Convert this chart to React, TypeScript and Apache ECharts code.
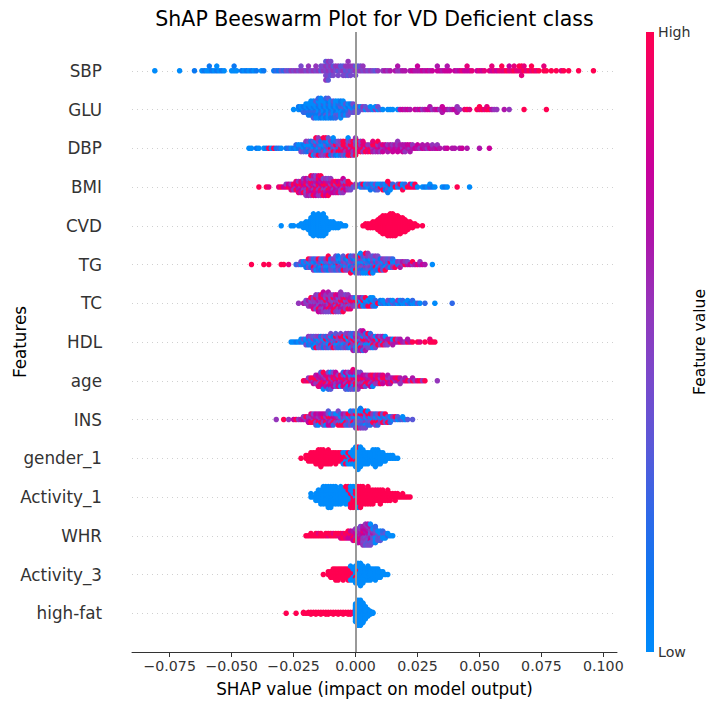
import React, { useEffect, useRef } from "react";
import * as echarts from "echarts";

// Feature names, top to bottom
const FEATURES = ["SBP", "GLU", "DBP", "BMI", "CVD", "TG", "TC", "HDL", "age", "INS", "gender_1", "Activity_1", "WHR", "Activity_3", "high-fat"];
const X_TICKS = [-0.075, -0.05, -0.025, 0, 0.025, 0.05, 0.075, 0.1];
// feature value colour scale (0 = low ... 9 = high)
const CMAP = ["#008bfb", "#0a78f2", "#2f68e8", "#5a58d8", "#7a48cb", "#9435bb", "#ae15aa", "#c8009b", "#e4007a", "#ff0051"];

// Each entry: [SHAP value in thousandths, feature-value digits of the points at that SHAP value]
const SBP: [number, string][] = [[-81,"0"],[-71,"0"],[-65,"1"],[-62,"0"],[-61,"1"],[-60,"0"],[-59,"01"],[-58,"1"],[-57,"0"],[-56,"10"],[-55,"0"],[-54,"1"],[-53,"0"],[-50,"0"],[-49,"01"],[-48,"0"],[-46,"1"],[-45,"0"],[-44,"1"],[-43,"0"],[-42,"1"],[-41,"0"],[-40,"1"],[-38,"0"],[-37,"1"],[-33,"1"],[-32,"2"],[-31,"1"],[-30,"3"],[-29,"2"],[-28,"4"],[-27,"3"],[-26,"5"],[-25,"4"],[-24,"5"],[-23,"4"],[-22,"54"],[-21,"5"],[-20,"4"],[-19,"55"],[-18,"4"],[-17,"5"],[-16,"45"],[-15,"5"],[-14,"34"],[-13,"54"],[-12,"45435"],[-11,"54453"],[-10,"4534"],[-9,"534"],[-8,"45"],[-7,"354"],[-6,"43"],[-5,"534"],[-4,"354"],[-3,"4535"],[-2,"354"],[-1,"45"],[0,"534"],[1,"43"],[2,"54"],[3,"45"],[4,"5"],[5,"4"],[6,"5"],[7,"4"],[8,"3"],[9,"5"],[11,"5"],[12,"6"],[13,"5"],[14,"6"],[16,"6"],[17,"56"],[18,"5"],[19,"6"],[20,"6"],[22,"6"],[23,"7"],[24,"6"],[25,"67"],[26,"6"],[27,"7"],[28,"6"],[29,"7"],[30,"6"],[31,"7"],[33,"76"],[34,"7"],[35,"6"],[36,"7"],[37,"76"],[38,"7"],[40,"7"],[41,"6"],[42,"7"],[43,"8"],[44,"7"],[45,"78"],[46,"7"],[47,"8"],[49,"7"],[50,"8"],[51,"7"],[52,"8"],[54,"8"],[55,"78"],[56,"8"],[57,"7"],[58,"8"],[59,"89"],[60,"8"],[61,"9"],[62,"87"],[63,"8"],[64,"98"],[65,"8"],[66,"89"],[67,"898"],[68,"98"],[69,"8"],[70,"9"],[71,"89"],[72,"9"],[73,"8"],[74,"9"],[76,"98"],[77,"9"],[79,"9"],[81,"9"],[83,"8"],[84,"9"],[86,"9"],[90,"9"],[96,"9"]];
const GLU: [number, string][] = [[-25,"0"],[-23,"01"],[-22,"10"],[-21,"012"],[-20,"1020"],[-19,"01201"],[-18,"102010"],[-17,"0120103"],[-16,"1020130"],[-15,"01021002"],[-14,"10203010"],[-13,"0102100"],[-12,"20103012"],[-11,"01020103"],[-10,"1020301"],[-9,"0102031"],[-8,"2010302"],[-7,"010230"],[-6,"1302010"],[-5,"031020"],[-4,"20130"],[-3,"01203"],[-2,"3041"],[-1,"0234"],[0,"314"],[1,"043"],[2,"30"],[3,"45"],[4,"03"],[5,"4"],[6,"30"],[7,"0"],[8,"50"],[9,"04"],[10,"3"],[11,"0"],[13,"0"],[14,"0"],[15,"0"],[17,"0"],[18,"6"],[19,"7"],[20,"6"],[21,"7"],[22,"6"],[24,"7"],[25,"6"],[26,"7"],[27,"5"],[28,"6"],[29,"7"],[30,"76"],[31,"5"],[32,"6"],[33,"7"],[34,"5"],[35,"676"],[36,"7"],[37,"6"],[38,"5"],[39,"6"],[40,"7"],[41,"656"],[42,"5"],[44,"8"],[45,"9"],[46,"8"],[49,"9"],[50,"89"],[51,"9"],[52,"8"],[53,"98"],[54,"9"],[55,"6"],[56,"5"],[57,"5"],[60,"6"],[62,"5"],[68,"9"],[77,"9"]];
const DBP: [number, string][] = [[-43,"0"],[-42,"0"],[-40,"1"],[-39,"0"],[-37,"0"],[-36,"1"],[-35,"9"],[-34,"0"],[-33,"9"],[-32,"1"],[-31,"2"],[-30,"0"],[-28,"1"],[-27,"2"],[-26,"0"],[-25,"1"],[-24,"02"],[-23,"10"],[-22,"204"],[-21,"013"],[-20,"1025"],[-19,"3014"],[-18,"20419"],[-17,"01530"],[-16,"152049"],[-15,"021495"],[-14,"40215"],[-13,"105249"],[-12,"240159"],[-11,"514093"],[-10,"92451"],[-9,"259140"],[-8,"49521"],[-7,"15940"],[-6,"94952"],[-5,"59894"],[-4,"89592"],[-3,"958490"],[-2,"49859"],[-1,"89594"],[0,"958495"],[1,"5989"],[2,"8594"],[3,"9858"],[4,"589"],[5,"958"],[6,"859"],[7,"5968"],[8,"695"],[9,"8569"],[10,"765"],[11,"587"],[12,"67"],[13,"756"],[14,"86"],[15,"657"],[16,"76"],[17,"6575"],[18,"76"],[19,"567"],[20,"765"],[21,"67"],[22,"576"],[23,"65"],[24,"7"],[25,"67"],[26,"5"],[27,"76"],[28,"6"],[29,"56"],[30,"7"],[31,"65"],[32,"6"],[33,"75"],[34,"6"],[36,"6"],[37,"7"],[39,"6"],[40,"6"],[42,"6"],[43,"7"],[45,"6"],[50,"6"],[54,"7"]];
const BMI: [number, string][] = [[-39,"9"],[-36,"9"],[-35,"8"],[-31,"8"],[-30,"9"],[-29,"7"],[-28,"85"],[-27,"97"],[-26,"758"],[-25,"895"],[-24,"5798"],[-23,"79658"],[-22,"59786"],[-21,"875695"],[-20,"6958475"],[-19,"7596856"],[-18,"58697459"],[-17,"96587596"],[-16,"75968574"],[-15,"89576958"],[-14,"57968759"],[-13,"6957849"],[-12,"7958657"],[-11,"5896749"],[-10,"958675"],[-9,"69587"],[-8,"85796"],[-7,"59678"],[-6,"79584"],[-5,"569457"],[-4,"6974"],[-3,"4859"],[-2,"594"],[-1,"3"],[0,"45"],[2,"02"],[3,"39"],[4,"20"],[5,"03"],[6,"021"],[7,"30"],[8,"042"],[9,"103"],[10,"90"],[11,"029"],[12,"301"],[13,"02491"],[14,"190"],[15,"02"],[16,"9"],[17,"03"],[18,"29"],[19,"109"],[20,"02"],[21,"9"],[22,"98"],[23,"90"],[24,"89"],[25,"0"],[27,"0"],[28,"1"],[29,"0"],[30,"20"],[31,"1"],[32,"0"],[35,"0"],[36,"1"],[37,"0"],[41,"9"],[46,"0"]];
const CVD: [number, string][] = [[-30,"0"],[-26,"0"],[-25,"0"],[-23,"0"],[-22,"00"],[-21,"000"],[-20,"0000"],[-19,"00000"],[-18,"000000000"],[-17,"000000000000"],[-16,"0000000000"],[-15,"000000000000"],[-14,"00000000000"],[-13,"000000000000"],[-12,"000000000"],[-11,"00000"],[-10,"0000"],[-9,"0000"],[-8,"000"],[-7,"000"],[-6,"00"],[-5,"0"],[-4,"0"],[3,"9"],[4,"99"],[5,"999"],[6,"999"],[7,"9999"],[8,"9999"],[9,"999999"],[10,"99999999"],[11,"9999999999"],[12,"9999999999"],[13,"99999999999"],[14,"999999999999"],[15,"999999999999"],[16,"99999999999"],[17,"9999999999"],[18,"999999999"],[19,"99999999"],[20,"9999999"],[21,"99999"],[22,"9999"],[23,"999"],[24,"99"],[25,"9"],[27,"9"]];
const TG: [number, string][] = [[-42,"9"],[-37,"9"],[-35,"9"],[-30,"9"],[-29,"9"],[-27,"8"],[-24,"2"],[-23,"3"],[-22,"04"],[-21,"20"],[-20,"031"],[-19,"2049"],[-18,"0315"],[-17,"40925"],[-16,"21430"],[-15,"05192"],[-14,"42031"],[-13,"90425"],[-12,"13052"],[-11,"240919"],[-10,"50324"],[-9,"42053"],[-8,"130524"],[-7,"925041"],[-6,"41502"],[-5,"052493"],[-4,"34015"],[-3,"523049"],[-2,"0415329"],[-1,"254103"],[0,"1340952"],[1,"4025314"],[2,"20451930"],[3,"5043120"],[4,"13502409"],[5,"02413505"],[6,"3150249"],[7,"0524130"],[8,"419025"],[9,"250314"],[10,"03519"],[11,"40253"],[12,"15049"],[13,"0253"],[14,"5904"],[15,"3052"],[16,"409"],[17,"25"],[18,"046"],[19,"56"],[20,"95"],[21,"64"],[22,"7"],[23,"59"],[24,"6"],[25,"8"],[26,"65"],[27,"7"],[28,"6"],[31,"0"]];
const TC: [number, string][] = [[-23,"5"],[-21,"6"],[-20,"54"],[-19,"465"],[-18,"5469"],[-17,"45658"],[-16,"456945"],[-15,"5645947"],[-14,"4578596"],[-13,"45694657"],[-12,"5964754"],[-11,"46589546"],[-10,"8594654"],[-9,"5469859"],[-8,"9546985"],[-7,"6594574"],[-6,"49856545"],[-5,"5948659"],[-4,"645954"],[-3,"954695"],[-2,"59468"],[-1,"6954"],[0,"5940"],[1,"0935"],[2,"2096"],[3,"0903"],[4,"1029"],[5,"209"],[6,"0190"],[7,"9020"],[8,"021"],[9,"9"],[10,"01"],[11,"20"],[12,"0"],[13,"14"],[14,"02"],[15,"30"],[16,"2"],[17,"05"],[18,"10"],[19,"02"],[20,"0"],[21,"30"],[22,"1"],[23,"02"],[24,"0"],[25,"3"],[26,"0"],[28,"2"],[32,"0"],[39,"2"]];
const HDL: [number, string][] = [[-26,"0"],[-25,"0"],[-24,"1"],[-23,"0"],[-22,"20"],[-21,"03"],[-20,"104"],[-19,"0215"],[-18,"3024"],[-17,"05130"],[-16,"21049"],[-15,"40253"],[-14,"03514"],[-13,"50241"],[-12,"09325"],[-11,"41052"],[-10,"259034"],[-9,"04519"],[-8,"520943"],[-7,"94052"],[-6,"053924"],[-5,"45093"],[-4,"392054"],[-3,"504925"],[-2,"259403"],[-1,"4950526"],[0,"9546053"],[1,"5096254"],[2,"64059265"],[3,"59406527"],[4,"6905426"],[5,"560249"],[6,"950642"],[7,"46950"],[8,"69504"],[9,"5096"],[10,"6954"],[11,"0596"],[12,"9650"],[13,"564"],[14,"96"],[15,"506"],[16,"69"],[17,"65"],[18,"96"],[19,"6"],[20,"5"],[21,"96"],[22,"6"],[23,"9"],[25,"9"],[26,"8"],[28,"9"],[30,"98"],[31,"9"],[32,"9"]];
const AGE: [number, string][] = [[-21,"9"],[-20,"8"],[-19,"95"],[-18,"69"],[-17,"597"],[-16,"8956"],[-15,"96578"],[-14,"579683"],[-13,"9685790"],[-12,"75986"],[-11,"6958742"],[-10,"8596703"],[-9,"596874"],[-8,"965837"],[-7,"79658"],[-6,"58690"],[-5,"697582"],[-4,"9650873"],[-3,"5986042"],[-2,"8590763"],[-1,"69520748"],[0,"5790862"],[1,"6958745"],[2,"985764"],[3,"69578"],[4,"58963"],[5,"7695"],[6,"96587"],[7,"58690"],[8,"9756"],[9,"6958"],[10,"8596"],[11,"5978"],[12,"69"],[13,"9586"],[14,"756"],[15,"96"],[16,"58"],[17,"69"],[18,"965"],[19,"5"],[20,"86"],[21,"9"],[22,"5"],[23,"96"],[24,"5"],[25,"8"],[26,"9"],[27,"5"],[28,"9"],[33,"5"]];
const INS: [number, string][] = [[-32,"5"],[-29,"9"],[-27,"5"],[-25,"7"],[-24,"9"],[-23,"5"],[-22,"6"],[-21,"75"],[-20,"59"],[-19,"657"],[-18,"7598"],[-17,"5694"],[-16,"96573"],[-15,"75960"],[-14,"5697"],[-13,"69574"],[-12,"75960"],[-11,"596473"],[-10,"69507"],[-9,"57932"],[-8,"9650"],[-7,"653094"],[-6,"50329"],[-5,"35069"],[-4,"04953"],[-3,"30592"],[-2,"053940"],[-1,"409523"],[0,"5039204"],[1,"0245309"],[2,"30492051"],[3,"0539204"],[4,"2053094"],[5,"053920"],[6,"30492"],[7,"0395"],[8,"30925"],[9,"03942"],[10,"3059"],[11,"0293"],[12,"5039"],[13,"039"],[14,"302"],[15,"05"],[16,"39"],[17,"03"],[18,"2"],[19,"30"],[20,"0"],[21,"3"],[23,"3"]];
const GENDER_1: [number, string][] = [[-22,"9"],[-20,"99"],[-19,"999"],[-18,"9999"],[-17,"9999"],[-16,"99999"],[-15,"999999"],[-14,"9999999"],[-13,"999999"],[-12,"99999"],[-11,"999999"],[-10,"99999"],[-9,"9999"],[-8,"99999"],[-7,"9999"],[-6,"9999"],[-5,"99900"],[-4,"99009"],[-3,"90090"],[-2,"09900"],[-1,"909000"],[0,"00900000"],[1,"000000090"],[2,"00000000"],[3,"000000"],[4,"00000"],[5,"00000"],[6,"0000"],[7,"000000"],[8,"0000000"],[9,"000000"],[10,"00000"],[11,"0000"],[12,"000"],[13,"00"],[14,"00"],[15,"00"],[16,"0"],[17,"0"]];
const ACTIVITY_1: [number, string][] = [[-18,"00"],[-17,"0"],[-16,"000"],[-15,"0000"],[-14,"00000"],[-13,"000000"],[-12,"000000"],[-11,"0000000"],[-10,"0000000"],[-9,"000000"],[-8,"000000"],[-7,"00000"],[-6,"000000"],[-5,"0000"],[-4,"000009"],[-3,"000909"],[-2,"0900909"],[-1,"9090909"],[0,"0999909"],[1,"9999990"],[2,"9999999"],[3,"999999"],[4,"99999"],[5,"999999"],[6,"99999"],[7,"99999"],[8,"9999"],[9,"9999"],[10,"99999"],[11,"9999"],[12,"999"],[13,"9999"],[14,"999"],[15,"99"],[16,"999"],[17,"99"],[18,"9"],[19,"99"],[20,"9"],[21,"9"],[22,"9"]];
const WHR: [number, string][] = [[-20,"9"],[-19,"9"],[-18,"99"],[-17,"9"],[-16,"99"],[-15,"98"],[-14,"99"],[-13,"9"],[-12,"99"],[-11,"89"],[-10,"99"],[-9,"98"],[-8,"99"],[-7,"89"],[-6,"998"],[-5,"989"],[-4,"898"],[-3,"9879"],[-2,"8977"],[-1,"78967"],[0,"876795"],[1,"7685756"],[2,"56768574"],[3,"675857465"],[4,"5746574635"],[5,"4657463546"],[6,"5364753640"],[7,"4635403"],[8,"35040302"],[9,"04303"],[10,"30403"],[11,"0302"],[12,"030"],[13,"20"],[14,"0"],[15,"0"]];
const ACTIVITY_3: [number, string][] = [[-13,"9"],[-11,"99"],[-10,"999"],[-9,"9999"],[-8,"99999"],[-7,"99999"],[-6,"9999"],[-5,"99999"],[-4,"9999"],[-3,"99999"],[-2,"999900"],[-1,"99000"],[0,"0090000"],[1,"00090000"],[2,"000000000"],[3,"0000000"],[4,"00000"],[5,"000000"],[6,"00000"],[7,"0000"],[8,"00000"],[9,"0000"],[10,"000"],[11,"00"],[12,"0"],[13,"0"]];
const HIGH_FAT: [number, string][] = [[-28,"9"],[-24,"9"],[-21,"99"],[-20,"9"],[-19,"99"],[-18,"999"],[-17,"99"],[-16,"999"],[-15,"99"],[-14,"999"],[-13,"99"],[-12,"999"],[-11,"999"],[-10,"99"],[-9,"999"],[-8,"99"],[-7,"999"],[-6,"99"],[-5,"999"],[-4,"99"],[-3,"999"],[-2,"999"],[-1,"99"],[0,"00000000000000000000"],[1,"0000000000000000000000000000"],[2,"0000000000000000000000000000"],[3,"0000000000000000000000"],[4,"00000000000000"],[5,"00000000"],[6,"0000"],[7,"00"]];

const ROW_POINTS = [SBP, GLU, DBP, BMI, CVD, TG, TC, HDL, AGE, INS, GENDER_1, ACTIVITY_1, WHR, ACTIVITY_3, HIGH_FAT];
const ROW_HEIGHT = 0.4;
const FONT = "DejaVu Sans";

// beeswarm layout (same stacking rule as shap): alternate above/below within each bin
function layoutRow(pts: [number, string][], rowY: number): number[][] {
  const tmp: number[][] = [];
  let maxUp = 0;
  for (const [x, s] of pts) {
    for (let layer = 0; layer < s.length; layer++) {
      const off = Math.ceil(layer / 2) * ((layer % 2) * 2 - 1);
      if (off > maxUp) maxUp = off;
      tmp.push([x / 1000, off, Number(s[layer])]);
    }
  }
  const k = (0.9 * ROW_HEIGHT) / (maxUp + 1);
  return tmp.map(([x, off, c]) => [x, rowY + off * k, c]);
}

export default function App() {
  const ref = useRef<HTMLDivElement>(null);
  useEffect(() => {
    document.body.style.margin = "0";
    if (!ref.current) return;
    const chart = echarts.init(ref.current, undefined, { renderer: "svg" });
    const n = FEATURES.length;
    const data: number[][] = [];
    ROW_POINTS.forEach((pts, i) => {
      layoutRow(pts, n - 1 - i).forEach((p) => data.push(p));
    });
    const rowIdx = FEATURES.map((_, i) => i);
    const stops = CMAP.map((c, i) => ({ offset: 1 - i / (CMAP.length - 1), color: c })).reverse();
    const fmt = (v: number) => (v < 0 ? "\u2212" : "") + Math.abs(v).toFixed(3);
    chart.setOption({
      animation: false,
      textStyle: { fontFamily: FONT },
      title: {
        text: "ShAP Beeswarm Plot for VD Deficient class",
        left: 374.5,
        top: 8,
        padding: 0,
        textAlign: "center",
        textStyle: { fontSize: 20.5, fontWeight: "normal", color: "#000", fontFamily: FONT },
      },
      grid: { left: 132, right: 91, top: 32, bottom: 50 },
      xAxis: {
        type: "value",
        min: -0.0902,
        max: 0.1055,
        axisLine: { show: true, onZero: false, lineStyle: { color: "#333", width: 1 } },
        axisTick: { show: true, customValues: X_TICKS, length: 5, lineStyle: { color: "#333", width: 1 } },
        axisLabel: { customValues: X_TICKS, formatter: fmt, fontSize: 14.2, color: "#333", margin: 7, fontFamily: FONT },
        splitLine: { show: false },
        name: "SHAP value (impact on model output)",
        nameLocation: "middle",
        nameGap: 28,
        nameTextStyle: { fontSize: 16.8, color: "#000", fontFamily: FONT },
      },
      yAxis: {
        type: "value",
        min: -1,
        max: 15,
        axisLine: { show: false },
        axisTick: { show: false },
        splitLine: { show: false },
        axisLabel: {
          customValues: rowIdx,
          formatter: (v: number) => FEATURES[n - 1 - Math.round(v)],
          fontSize: 16.8,
          color: "#333",
          margin: 30,
          fontFamily: FONT,
        },
      },
      visualMap: {
        type: "continuous",
        show: false,
        seriesIndex: 0,
        dimension: 2,
        min: 0,
        max: 9,
        inRange: { color: CMAP },
      },
      series: [
        {
          type: "scatter",
          data,
          symbol: "circle",
          symbolSize: 5.5,
          z: 3,
          silent: true,
          itemStyle: { opacity: 1 },
        },
        {
          type: "scatter",
          data: [],
          silent: true,
          markLine: {
            silent: true,
            z: 1,
            symbol: ["none", "none"],
            label: { show: false },
            lineStyle: { color: "#d0d0d0", width: 1, type: [1, 4] },
            data: rowIdx.map((i) => ({ yAxis: i })),
          },
        },
        {
          type: "scatter",
          data: [],
          silent: true,
          markLine: {
            silent: true,
            z: 10,
            symbol: ["none", "none"],
            label: { show: false },
            lineStyle: { color: "#999999", width: 2, type: "solid" },
            data: [{ xAxis: 0 }],
          },
        },
      ],
      graphic: [
        {
          type: "rect",
          shape: { x: 646, y: 32, width: 8, height: 620 },
          style: { fill: new echarts.graphic.LinearGradient(0, 0, 0, 1, stops) },
        },
        { type: "text", x: 658, y: 32, style: { text: "High", fontSize: 14.2, fill: "#333", verticalAlign: "middle", fontFamily: FONT } },
        { type: "text", x: 658, y: 652, style: { text: "Low", fontSize: 14.2, fill: "#333", verticalAlign: "middle", fontFamily: FONT } },
        {
          type: "text",
          x: 700,
          y: 342,
          rotation: Math.PI / 2,
          style: { text: "Feature value", fontSize: 15.5, fill: "#000", align: "center", verticalAlign: "middle", fontFamily: FONT },
        },
        {
          type: "text",
          x: 20,
          y: 342,
          rotation: Math.PI / 2,
          style: { text: "Features", fontSize: 16.8, fill: "#000", align: "center", verticalAlign: "middle", fontFamily: FONT },
        },
      ],
    });
    return () => chart.dispose();
  }, []);
  return <div ref={ref} style={{ width: 708, height: 702 }} />;
}
